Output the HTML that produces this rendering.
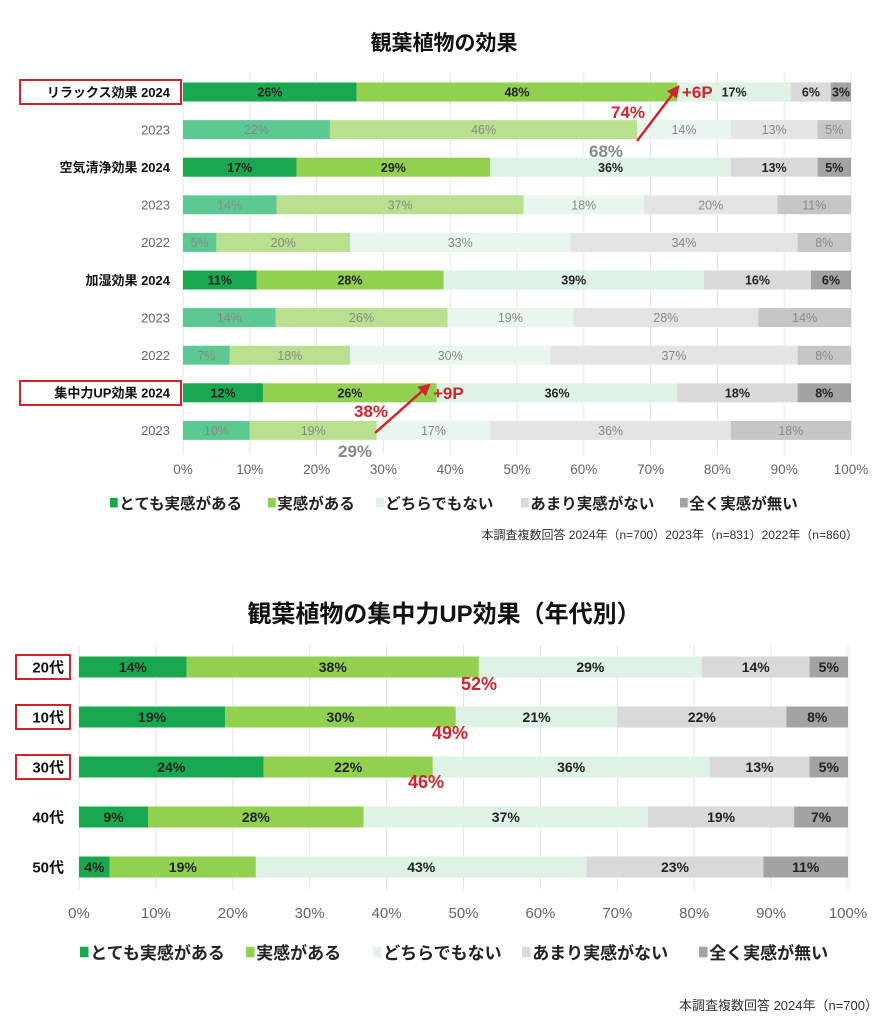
<!DOCTYPE html>
<html><head><meta charset="utf-8"><style>
html,body{margin:0;padding:0;background:#fff;}
svg{display:block;font-family:"Liberation Sans","Noto Sans CJK JP",sans-serif;}
</style></head><body>
<svg id="s" width="888" height="1024" viewBox="0 0 888 1024">
<text x="444" y="50" text-anchor="middle" font-size="21" font-weight="bold" fill="#111">観葉植物の効果</text>
<text x="444" y="622" text-anchor="middle" font-size="24" font-weight="bold" fill="#111">観葉植物の集中力UP効果（年代別）</text>
<g id="c1"></g><g id="c2"></g>
</svg>
<script>
const NS="http://www.w3.org/2000/svg";
const svg=document.getElementById('s');
function mk(tag,attrs,parent,txt){const e=document.createElementNS(NS,tag);for(const k in attrs)e.setAttribute(k,attrs[k]);if(txt!==undefined)e.textContent=txt;(parent||svg).appendChild(e);return e;}

// ---- Chart 1 data ----
const c1Labels=["リラックス効果 2024","2023","空気清浄効果 2024","2023","2022","加湿効果 2024","2023","2022","集中力UP効果 2024","2023"];
const c1Strong=[26,22,17,14,5,11,14,7,12,10];
const c1Some=[48,46,29,37,20,28,26,18,26,19];
const c1Neutral=[17,14,36,18,33,39,19,30,36,17];
const c1Little=[6,13,13,20,34,16,28,37,18,36];
const c1None=[3,5,5,11,8,6,14,8,8,18];
const c1Current=[true,false,true,false,false,true,false,false,true,false];
const ticks=["0%","10%","20%","30%","40%","50%","60%","70%","80%","90%","100%"];
const legendNames=["とても実感がある","実感がある","どちらでもない","あまり実感がない","全く実感が無い"];

// ---- Chart 2 data ----
const c2Labels=["20代","10代","30代","40代","50代"];
const c2Strong=[14,19,24,9,4];
const c2Some=[38,30,22,28,19];
const c2Neutral=[29,21,36,37,43];
const c2Little=[14,22,13,19,23];
const c2None=[5,8,5,7,11];

const colCur=["#19a84f","#92d050","#def2e6","#d9d9d9","#a3a3a3"];
const colOld=["#5cc993","#b8e08e","#e8f6ee","#e4e4e4","#c6c6c6"];

function drawChart(g,cfg){
  const x=v=>cfg.x0+(cfg.x1-cfg.x0)*v/100;
  ticks.forEach((t,i)=>{
    const gl=mk('line',{x1:x(i*10),x2:x(i*10),y1:cfg.gTop,y2:cfg.gBot,stroke:"#e6e6e6","stroke-width":1},g);
    
    
    const tt=mk('text',{x:x(i*10),y:cfg.tickY,"text-anchor":"middle","font-size":cfg.tickFs,fill:"#666"},g,t);
    
    
  });
  cfg.labels.forEach((lab,r)=>{
    const cy=cfg.y0+r*cfg.dy;
    const vals=cfg.series.map(s=>s[r]);
    const tot=vals.reduce((a,b)=>a+b,0);
    const cur=cfg.cur?cfg.cur[r]:true;
    const cols=cur?colCur:colOld;
    let acc=0;
    vals.forEach((v,k)=>{
      const xa=x(acc*100/tot),xb=x((acc+v)*100/tot);acc+=v;
      const b=mk('rect',{x:xa,y:cy-cfg.bh/2,width:xb-xa,height:cfg.bh,fill:cols[k]},g);
      
      
      const t=mk('text',{x:(xa+xb)/2,y:cy+cfg.fs*0.37,"text-anchor":"middle","font-size":cfg.fs,"font-weight":cur?"bold":"normal",fill:cur?"#222":"#888"},g,v+"%");
      
      
    });
    const lt=mk('text',{x:cfg.labX,y:cy+cfg.lfs*0.37,"text-anchor":"end","font-size":cfg.lfs,"font-weight":cur?"bold":"normal",fill:cur?"#111":"#666"},g,lab);
    
    
  });
  legendNames.forEach((n,k)=>{
    const lx=cfg.legXs[k];
    const sq=mk('rect',{x:lx,y:cfg.legY-cfg.legFs*0.72,width:cfg.legFs*0.5,height:cfg.legFs*0.62,fill:colCur[k]},g);
    
    
    const t=mk('text',{x:lx+cfg.legFs*0.6,y:cfg.legY,"font-size":cfg.legFs,"font-weight":"bold",fill:"#222"},g,n);
    
    
  });
}
drawChart(document.getElementById('c1'),{x0:183,x1:851,y0:92,dy:37.6,bh:19,fs:12.5,lfs:13,labX:170,gTop:72,gBot:455,tickY:474,tickFs:13.5,
  labels:c1Labels,series:[c1Strong,c1Some,c1Neutral,c1Little,c1None],cur:c1Current,legXs:[110,268,376,521,680],legY:509,legFs:15.5});
drawChart(document.getElementById('c2'),{x0:79,x1:848,y0:667,dy:50,bh:21,fs:14,lfs:15,labX:64,gTop:645,gBot:890,tickY:918,tickFs:15,
  labels:c2Labels,series:[c2Strong,c2Some,c2Neutral,c2Little,c2None],legXs:[80,246,373,522,699],legY:959,legFs:17});

// red label boxes
[[20,80,161,24],[20,381,161,24],[16,655,54,24],[16,705,54,24],[16,755,54,24]].forEach(b=>{
  const r=mk('rect',{x:b[0],y:b[1],width:b[2],height:b[3],fill:"none",stroke:"#d0262b","stroke-width":2});
  
  
});
mk('defs',{}).innerHTML='<marker id="ah" viewBox="0 0 10 10" refX="8" refY="5" markerWidth="5" markerHeight="5" orient="auto"><path d="M0,0L10,5L0,10z" fill="#d0262b"/></marker>';
[[637,141,678,87],[375,433,429,385]].forEach(a=>{
  const l=mk('line',{x1:a[0],y1:a[1],x2:a[2],y2:a[3],stroke:"#d0262b","stroke-width":2.5,"marker-end":"url(#ah)"});
  
  
});
[["+6P",682,98,17,"#d0262b"],["74%",611,118,17,"#d0262b"],["68%",589,157,17,"#888"],
 ["+9P",433,399,17,"#d0262b"],["38%",354,417,17,"#d0262b"],["29%",338,457,17,"#888"],
 ["52%",461,690,18,"#d0262b"],["49%",432,739,18,"#d0262b"],["46%",408,788,18,"#d0262b"]].forEach(a=>{
  const t=mk('text',{x:a[1],y:a[2],"font-size":a[3],"font-weight":"bold",fill:a[4]},svg,a[0]);
  
  
});
const n1=mk('text',{x:858,y:539,"text-anchor":"end","font-size":12,fill:"#333"},svg,"本調査複数回答  2024年（n=700）2023年（n=831）2022年（n=860）");


const n2=mk('text',{x:878,y:1010,"text-anchor":"end","font-size":13,fill:"#333"},svg,"本調査複数回答  2024年（n=700）");


</script>
</body></html>
